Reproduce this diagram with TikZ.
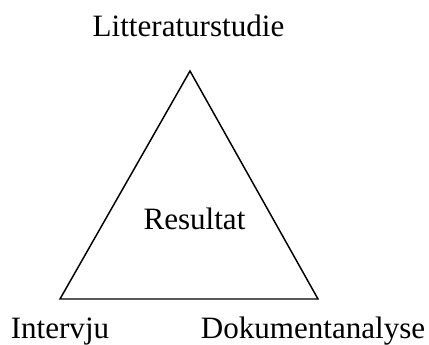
\documentclass[tikz,border=0pt]{standalone}
\usepackage{fontspec}
\setmainfont{Liberation Serif}
\usepackage{tikz}
\usetikzlibrary{positioning}
\tikzset{
    label text/.style={font=\fontsize{23.3}{28}\selectfont, anchor=base, inner sep=0pt},
    edge line/.style={draw=black, line width=1.1pt, line join=miter}
}

\begin{document}
\begin{tikzpicture}[x=0.75pt, y=-0.75pt]
        \useasboundingbox (0,0) rectangle (429,344);
        % corners of the triangle
        \coordinate (top) at (190,71);
        \coordinate (left) at (60,299);
        \coordinate (right) at (318,299);
        \draw[edge line] (top) -- (right) -- (left) -- cycle;
        % texts
        \node[label text] (lit) at (188.5,36) {Litteraturstudie};
        \node[label text] (res) at (194.5,229) {Resultat};
        \node[label text] (int) at (60,338) {Intervju};
        \node[label text] (dok) at (313,338) {Dokumentanalyse};
      \end{tikzpicture}
\end{document}
